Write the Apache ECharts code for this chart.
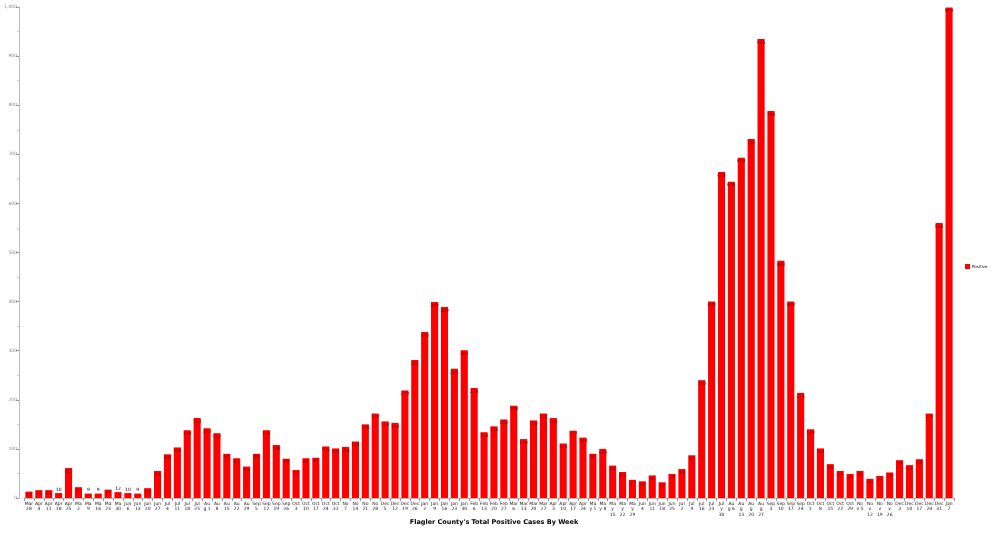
<!DOCTYPE html>
<html>
<head>
<meta charset="utf-8">
<script src="https://cdn.jsdelivr.net/npm/echarts@6/dist/echarts.min.js"></script>
<style>html,body{margin:0;padding:0;background:#fff}#c{width:1000px;height:533px}</style>
</head>
<body>
<div id="c"></div>
<script>
const weeks = ["Mar\n28","Apr\n4","Apr\n11","Apr\n18","Apr\n25","Ma\n2","Ma\n9","Ma\n16","Ma\n23","Ma\n30","Jun\n6","Jun\n13","Jun\n20","Jun\n27","Jul\n4","Jul\n11","Jul\n18","Jul\n25","Au\ng 1","Au\n8","Au\n15","Au\n22","Au\n29","Sep\n5","Sep\n12","Sep\n19","Sep\n26","Oct\n3","Oct\n10","Oct\n17","Oct\n24","Oct\n31","No\n7","No\n14","No\n21","No\n28","Dec\n5","Dec\n12","Dec\n19","Dec\n26","Jan\n2","Jan\n9","Jan\n16","Jan\n23","Jan\n30","Feb\n6","Feb\n13","Feb\n20","Feb\n27","Mar\n6","Mar\n13","Mar\n20","Mar\n27","Apr\n3","Apr\n10","Apr\n17","Apr\n24","Ma\ny 1","Ma\ny 8","Ma\ny\n15","Ma\ny\n22","Ma\ny\n29","Jun\n4","Jun\n11","Jun\n18","Jun\n25","Jul\n2","Jul\n9","Jul\n16","Jul\n23","Jul\ny\n30","Au\ng 6","Au\ng\n13","Au\ng\n20","Au\ng\n27","Sep\n3","Sep\n10","Sep\n17","Sep\n24","Oct\n1","Oct\n8","Oct\n15","Oct\n22","Oct\n29","No\nv 5","No\nv\n12","No\nv\n19","No\nv\n26","Dec\n3","Dec\n10","Dec\n17","Dec\n24","Dec\n31","Jan\n7"];
const positive = [13,16,16,10,61,22,9,9,17,12,10,9,20,55,89,103,138,163,142,132,90,81,64,90,138,108,80,57,81,82,105,101,104,115,150,172,156,153,219,281,338,399,389,263,301,224,134,146,160,188,120,158,172,163,111,137,123,90,100,66,53,37,34,46,32,49,59,87,240,400,664,644,693,731,935,788,483,400,214,140,101,69,55,49,55,39,45,52,77,67,79,172,560,999];
const seriesName = "Positive";
const chartTitle = "Flagler County's Total Positive Cases By Week";

const chart = echarts.init(document.getElementById('c'), null, {renderer: 'canvas'});
const FONT = 'DejaVu Sans';
chart.setOption({
  animation: false,
  backgroundColor: '#ffffff',
  title: {
    text: chartTitle,
    left: 489, top: 514,
    textAlign: 'center',
    textStyle: {fontFamily: FONT, fontSize: 6.5, fontWeight: 'bold', color: '#000'}
  },
  legend: {
    data: [seriesName],
    orient: 'vertical',
    left: 960, top: 259,
    itemWidth: 5, itemHeight: 5, itemGap: 2,
    icon: 'rect',
    textStyle: {fontFamily: FONT, fontSize: 4, color: '#000', padding: [0,0,0,-3]}
  },
  grid: {left: 24, right: 46, top: 7, bottom: 35, containLabel: false},
  xAxis: {
    type: 'category',
    data: weeks,
    axisLine: {show: true, lineStyle: {color: '#bbbbbb', width: 1}},
    axisTick: {show: true, alignWithLabel: false, length: 3, lineStyle: {color: '#999'}},
    axisLabel: {interval: 0, fontFamily: FONT, fontSize: 4.5, lineHeight: 5.5, color: '#222', margin: 3}
  },
  yAxis: {
    type: 'value',
    min: 0, max: 1000, interval: 100,
    offset: 5,
    axisLine: {show: true, lineStyle: {color: '#bbbbbb', width: 1}},
    axisTick: {show: true, length: 3, lineStyle: {color: '#999'}},
    minorTick: {show: true, splitNumber: 2, length: 2, lineStyle: {color: '#ccc'}},
    splitLine: {show: false},
    axisLabel: {fontFamily: FONT, fontSize: 4.5, color: '#888', margin: 2,
      formatter: v => v.toLocaleString('en-US')}
  },
  series: [{
    name: seriesName,
    type: 'bar',
    data: positive.map(v => v < 13
      ? {value: v, label: {position: 'top', color: '#000', distance: 1}}
      : {value: v}),
    barCategoryGap: '28%',
    itemStyle: {color: '#ff0000'},
    label: {
      show: true, position: 'insideTop', distance: 1,
      fontFamily: FONT, fontSize: 4.5, color: '#800000'
    }
  }]
});
</script>
</body>
</html>
